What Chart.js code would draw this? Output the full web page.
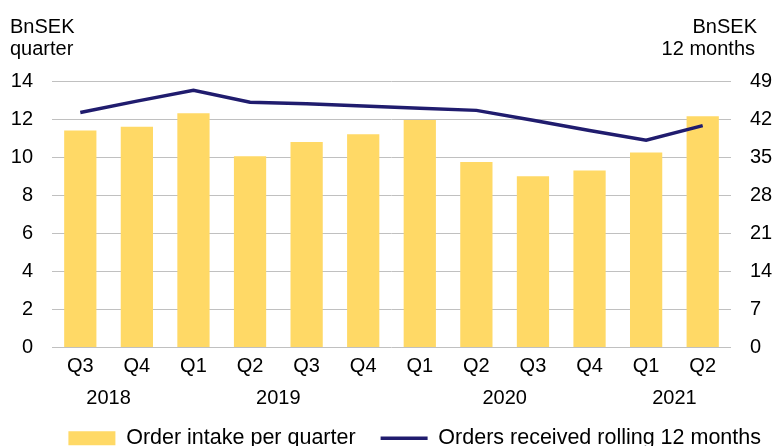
<!DOCTYPE html>
<html>
<head>
<meta charset="utf-8">
<script src="https://cdn.jsdelivr.net/npm/chart.js@4.4.1/dist/chart.umd.min.js"></script>
<style>
  html, body { margin: 0; padding: 0; background: #fff; }
  #wrap { width: 774px; height: 446px; }
</style>
</head>
<body>
<div id="wrap"><canvas id="chart" width="774" height="446"></canvas></div>
<script>
// quarters and the year each one belongs to
const quarters = ['Q3', 'Q4', 'Q1', 'Q2', 'Q3', 'Q4', 'Q1', 'Q2', 'Q3', 'Q4', 'Q1', 'Q2'];
const years = ['2018', '2018', '2019', '2019', '2019', '2019', '2020', '2020', '2020', '2020', '2021', '2021'];

// BnSEK per quarter (left axis)
const orderIntake = [11.4, 11.6, 12.3, 10.05, 10.8, 11.2, 11.95, 9.75, 9.0, 9.3, 10.25, 12.15];
// BnSEK rolling 12 months (right axis)
const rolling12m = [43.2, 45.3, 47.3, 45.1, 44.8, 44.4, 44.0, 43.6, 41.8, 39.9, 38.1, 40.8];

const leftTicks = [0, 2, 4, 6, 8, 10, 12, 14];
const rightTicks = [0, 7, 14, 21, 28, 35, 42, 49];

const FONT = "'Liberation Sans', Arial, sans-serif";
const barColor = '#FFD966';
const lineColor = '#201C6E';
const gridColor = '#C0C0C0';

// axis titles + year row under the quarter labels
const extraText = {
  id: 'extraText',
  afterDraw(chart) {
    const ctx = chart.ctx;
    const area = chart.chartArea;
    const x = chart.scales.x;
    ctx.save();
    ctx.fillStyle = '#000';
    ctx.font = '20px ' + FONT;
    ctx.textBaseline = 'alphabetic';

    ctx.textAlign = 'left';
    ctx.fillText('BnSEK', 10, area.top - 48);
    ctx.fillText('quarter', 10, area.top - 26);
    ctx.textAlign = 'right';
    ctx.fillText('BnSEK', 757, area.top - 48);
    ctx.fillText('12 months', 755, area.top - 26);

    // one label per year, centred under its quarters
    ctx.textAlign = 'center';
    const seen = [];
    years.forEach((y) => { if (!seen.includes(y)) seen.push(y); });
    seen.forEach((y) => {
      const first = years.indexOf(y);
      const last = years.lastIndexOf(y);
      const cx = (x.getPixelForValue(first) + x.getPixelForValue(last)) / 2;
      ctx.fillText(y, cx, area.bottom + 56);
    });
    ctx.restore();
  }
};

new Chart(document.getElementById('chart'), {
  data: {
    labels: quarters,
    datasets: [
      {
        type: 'bar',
        label: 'Order intake per quarter',
        data: orderIntake,
        backgroundColor: barColor,
        borderWidth: 0,
        yAxisID: 'y',
        barPercentage: 0.57,
        categoryPercentage: 1,
        order: 2,
        pointStyle: 'rect',
      },
      {
        type: 'line',
        label: 'Orders received rolling 12 months',
        data: rolling12m,
        borderColor: lineColor,
        backgroundColor: lineColor,
        borderWidth: 3.5,
        pointRadius: 0,
        tension: 0,
        yAxisID: 'y1',
        order: 1,
        pointStyle: 'line',
      },
    ],
  },
  options: {
    responsive: false,
    animation: false,
    layout: { padding: { top: 81, left: 0, right: -12, bottom: -13 } },
    plugins: {
      tooltip: { enabled: false },
      legend: {
        position: 'bottom',
        align: 'end',
        labels: {
          usePointStyle: true,
          pointStyleWidth: 47,
          boxHeight: 14,
          padding: 25,
          color: '#000',
          font: { family: FONT, size: 21.5 },
          sort: (a, b) => a.datasetIndex - b.datasetIndex,
        },
      },
    },
    scales: {
      x: {
        offset: true,
        grid: { display: false, drawTicks: false },
        border: { display: false },
        ticks: { color: '#000', padding: 7, font: { family: FONT, size: 20 } },
        afterFit: (s) => { s.height = 55; },
      },
      y: {
        position: 'left',
        min: 0,
        max: 14,
        afterBuildTicks: (s) => { s.ticks = leftTicks.map((v) => ({ value: v })); },
        grid: { color: gridColor, drawTicks: false },
        border: { display: false },
        ticks: { color: '#000', padding: 19, font: { family: FONT, size: 20 } },
        afterFit: (s) => { s.width = 52; },
      },
      y1: {
        position: 'right',
        min: 0,
        max: 49,
        afterBuildTicks: (s) => { s.ticks = rightTicks.map((v) => ({ value: v })); },
        grid: { display: false, drawTicks: false },
        border: { display: false },
        ticks: { color: '#000', padding: 19, font: { family: FONT, size: 20 } },
        afterFit: (s) => { s.width = 55; },
      },
    },
  },
  plugins: [extraText],
});
</script>
</body>
</html>
